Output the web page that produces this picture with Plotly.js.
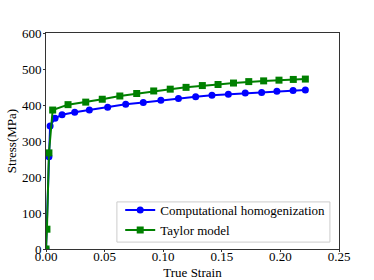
<!DOCTYPE html>
<html><head><meta charset="utf-8">
<script src="https://cdn.plot.ly/plotly-3.0.1.min.js"></script>
<style>html,body{margin:0;padding:0;background:#fff}#c{width:374px;height:280px}</style>
</head><body><div id="c"></div>
<script>
const seriesNames = ["Computational homogenization", "Taylor model"];
const compStrain = [0, 0.0025, 0.0035, 0.0077, 0.0137, 0.0245, 0.037, 0.0526, 0.068, 0.083, 0.098, 0.113, 0.1277, 0.1416, 0.1556, 0.170, 0.184, 0.197, 0.2108, 0.2213];
const compStress = [0, 256, 342, 363, 373, 380, 386, 394, 402, 407, 413, 418, 423, 427, 430, 433, 435, 438, 440, 442];
const taylorStrain = [0, 0.0008, 0.0025, 0.0057, 0.0188, 0.0339, 0.048, 0.063, 0.0774, 0.0919, 0.106, 0.1195, 0.1334, 0.1468, 0.160, 0.173, 0.1857, 0.1988, 0.211, 0.2213];
const taylorStress = [0, 55, 267, 386, 401, 408, 416, 425, 432, 439, 444, 449, 454, 457, 461, 465, 467, 469, 471, 472];
const xTicks = [0, 0.05, 0.10, 0.15, 0.20, 0.25];
const yTicks = [0, 100, 200, 300, 400, 500, 600];

const font = {family: "'Liberation Serif', 'DejaVu Serif', serif", size: 13, color: "#000"};
const traces = [
  {x: compStrain, y: compStress, name: seriesNames[0], mode: "lines+markers",
   line: {color: "#0000ff", width: 2}, marker: {symbol: "circle", size: 7, color: "#0000ff"}},
  {x: taylorStrain, y: taylorStress, name: seriesNames[1], mode: "lines+markers",
   line: {color: "#008000", width: 2}, marker: {symbol: "square", size: 7, color: "#008000"}}
];
const axisCommon = {showgrid: false, zeroline: false, showline: true, linecolor: "#333", linewidth: 1,
  mirror: true, ticks: "outside", ticklen: 2, tickcolor: "#333", tickfont: font};
const layout = {
  width: 374, height: 280, margin: {l: 46, r: 35, t: 33, b: 31},
  paper_bgcolor: "#fff", plot_bgcolor: "#fff", font: font, showlegend: true,
  xaxis: Object.assign({}, axisCommon, {range: [0, 0.25], tickvals: xTicks, tickformat: ".2f",
    ticklabelstandoff: -7,
    title: {text: "True Strain", font: font, standoff: 6}}),
  yaxis: Object.assign({}, axisCommon, {range: [0, 600], tickvals: yTicks, ticklabelstandoff: -1,
    title: {text: "Stress(MPa)", font: font, standoff: 2}}),
  legend: {x: 0.97, y: 0.018, xanchor: "right", yanchor: "bottom", bgcolor: "rgba(0,0,0,0)",
    borderwidth: 0, font: font, itemwidth: 30, tracegroupgap: 0},
  shapes: [{type: "rect", xref: "paper", yref: "paper", x0: 0.242, x1: 0.969, y0: 0.032, y1: 0.218,
    line: {color: "#cccccc", width: 1}, fillcolor: "rgba(255,255,255,0.85)", layer: "above"}]
};
Plotly.newPlot("c", traces, layout, {staticPlot: true, displayModeBar: false});
</script></body></html>
